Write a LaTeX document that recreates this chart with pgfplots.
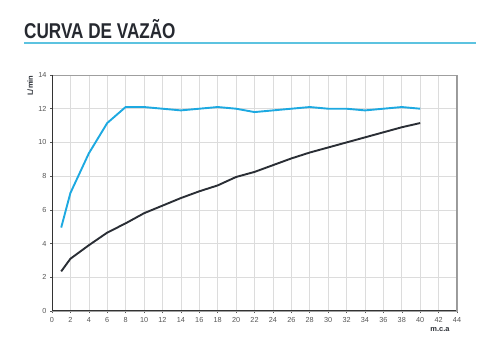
\documentclass[border=0pt]{standalone}
\usepackage{fontspec}
\setmainfont{Liberation Sans}
\usepackage{graphicx}
\usepackage{pgfplots}
\pgfplotsset{compat=1.18}
\definecolor{cblue}{HTML}{1DA9E1}
\definecolor{cdark}{HTML}{2A2E35}
\definecolor{cline}{HTML}{5CC3E0}
\definecolor{cgrid}{HTML}{DCDCDC}
\definecolor{ctick}{HTML}{555555}
\begin{document}
\begin{tikzpicture}
\useasboundingbox (0,0) rectangle (500bp,350bp);
\node[anchor=west,inner sep=0pt] at (24bp,321bp) {\scalebox{0.8}[1]{\fontsize{21.5}{24}\selectfont\bfseries\color{cdark!90!black}CURVA DE VAZÃO}};
\draw[cline,line width=1.2bp] (24bp,307bp) -- (476bp,307bp);
\begin{axis}[
  at={(52bp,39bp)}, anchor=origin,
  scale only axis, width=405bp, height=236bp,
  xmin=0, xmax=44, ymin=0, ymax=14,
  xtick={0,2,...,44}, ytick={0,2,...,14},
  grid=major, grid style={cgrid, line width=0.6bp},
  axis line style={draw=gray!75, line width=0.9bp},
  tick align=outside, major tick length=2bp,
  tick style={ctick, line width=0.5bp},
  xtick pos=bottom, ytick pos=left,
  ticklabel style={font=\fontsize{7.3}{8}\selectfont, text=ctick},
  /pgf/number format/assume math mode=true,
  xlabel={\textbf{m.c.a}}, ylabel={\textbf{L/min}},
  xlabel style={at={(axis description cs:0.958,-0.08)}, anchor=center, font=\fontsize{7.5}{8}\selectfont, text=cdark},
  ylabel style={at={(axis description cs:-0.054,0.955)}, anchor=center, font=\fontsize{7.5}{8}\selectfont, text=cdark},
  x tick label style={yshift=-1bp},
]
\addplot[cblue, line width=1.9bp, no marks] coordinates {
(1,4.95) (2,7.0) (4,9.35) (6,11.15) (8,12.1) (10,12.1) (12,12.0) (14,11.9) (16,12.0) (18,12.1) (20,12.0) (22,11.8) (24,11.9) (26,12.0) (28,12.1) (30,12.0) (32,12.0) (34,11.9) (36,12.0) (38,12.1) (40,12.0)};
\addplot[cdark, line width=1.9bp, no marks] coordinates {
(1,2.35) (2,3.1) (4,3.9) (6,4.65) (8,5.2) (10,5.8) (12,6.25) (14,6.7) (16,7.1) (18,7.45) (20,7.95) (22,8.25) (24,8.65) (26,9.05) (28,9.4) (30,9.7) (32,10.0) (34,10.3) (36,10.6) (38,10.9) (40,11.15)};
\draw[gray!40!black, line width=1.2bp] (axis description cs:0,1) -- (axis description cs:0,0) -- (axis description cs:1,0);
\draw[gray!80, line width=1.5bp] (axis description cs:1,0) -- (axis description cs:1,1);
\end{axis}
\end{tikzpicture}
\end{document}
